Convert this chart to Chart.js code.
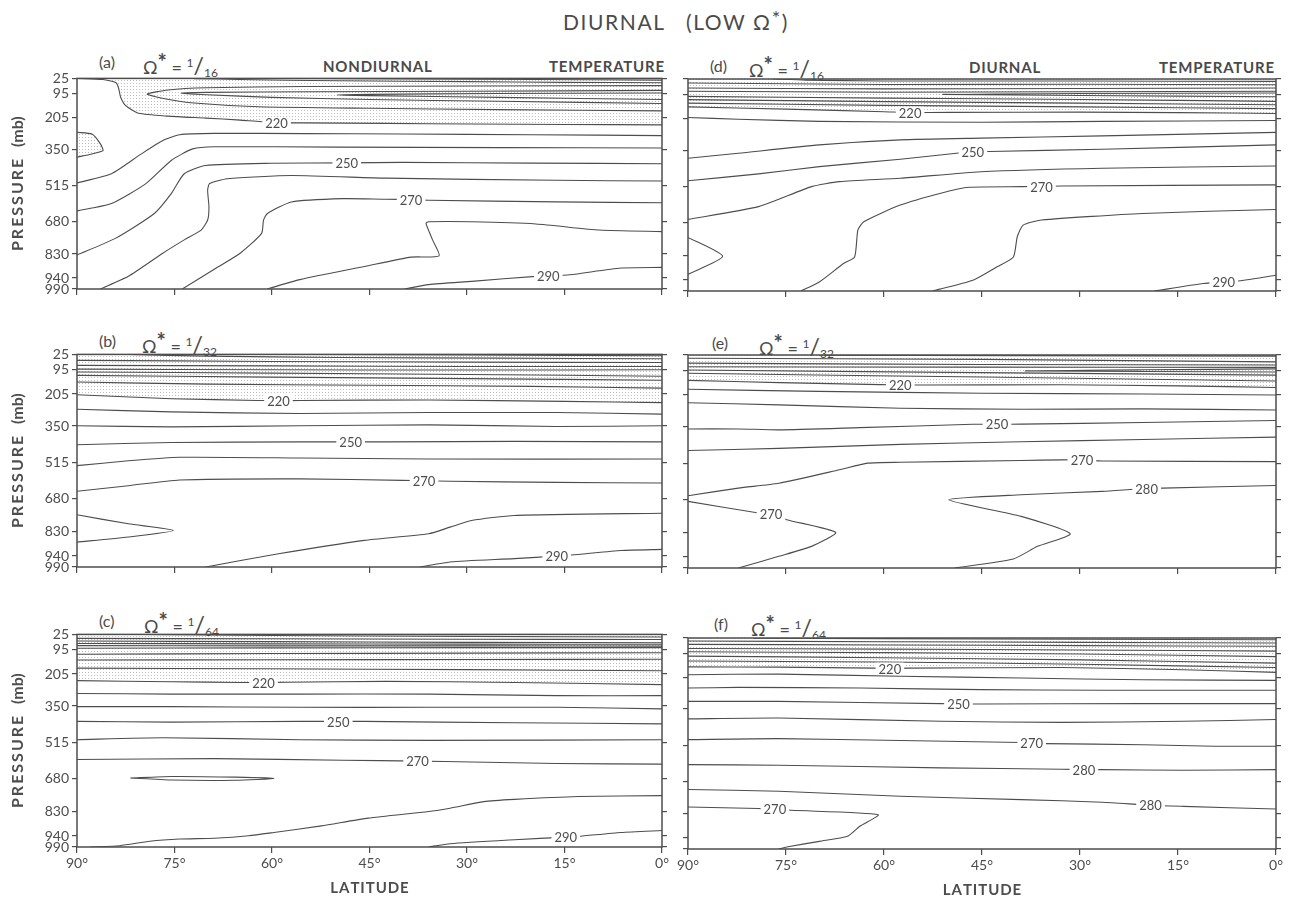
<!DOCTYPE html>
<html>
<head>
<meta charset="utf-8">
<script src="https://cdn.jsdelivr.net/npm/chart.js@4.4.0/dist/chart.umd.min.js"></script>
<style>
  html, body { margin: 0; padding: 0; background: #fff; }
  body { width: 1289px; height: 903px; position: relative; overflow: hidden;
         font-family: Lato, "Open Sans", "DejaVu Sans", sans-serif; color: #4a4a4a; }
  canvas { position: absolute; }
  .t { position: absolute; white-space: nowrap; line-height: 1; }
  .lab { font-size: 16px; }
  .om { font-size: 18px; }
  .om .st { font-size: 22px; font-weight: bold; position: relative; top: -4px; }
  .om .n { font-size: 12px; position: relative; top: -7px; }
  .om .sl { font-size: 23px; }
  .om .d { font-size: 12px; position: relative; top: 3px; }
  .hd { font-size: 15px; font-weight: bold; letter-spacing: 0.8px; }
  #title { left: 563px; top: 11px; font-size: 21px; letter-spacing: 1.6px; }
  #title .st { font-size: 20px; position: relative; top: -5px; }
</style>
</head>
<body>
<div class="t" id="title">DIURNAL&nbsp;&nbsp;&nbsp;(LOW Ω<span class="st">*</span>)</div>

<div class="t lab" style="left:99px;top:54px">(a)</div>
<div class="t om" style="left:143px;top:54px">Ω<span class="st">*</span> = <span class="n">1</span><span class="sl">/</span><span class="d">16</span></div>
<div class="t hd" style="left:323px;top:59px">NONDIURNAL</div>
<div class="t hd" style="left:549px;top:59px">TEMPERATURE</div>

<div class="t lab" style="left:710px;top:58px">(d)</div>
<div class="t om" style="left:749px;top:57px">Ω<span class="st">*</span> = <span class="n">1</span><span class="sl">/</span><span class="d">16</span></div>
<div class="t hd" style="left:969px;top:60px">DIURNAL</div>
<div class="t hd" style="left:1159px;top:60px">TEMPERATURE</div>

<div class="t lab" style="left:99px;top:333px">(b)</div>
<div class="t om" style="left:142px;top:333px">Ω<span class="st">*</span> = <span class="n">1</span><span class="sl">/</span><span class="d">32</span></div>

<div class="t lab" style="left:712px;top:335px">(e)</div>
<div class="t om" style="left:759px;top:335px">Ω<span class="st">*</span> = <span class="n">1</span><span class="sl">/</span><span class="d">32</span></div>

<div class="t lab" style="left:99px;top:613px">(c)</div>
<div class="t om" style="left:144px;top:613px">Ω<span class="st">*</span> = <span class="n">1</span><span class="sl">/</span><span class="d">64</span></div>

<div class="t lab" style="left:714px;top:616px">(f)</div>
<div class="t om" style="left:751px;top:616px">Ω<span class="st">*</span> = <span class="n">1</span><span class="sl">/</span><span class="d">64</span></div>

<script>
const INK = '#4d4d4d';
const levels = [25, 95, 205, 350, 515, 680, 830, 940, 990];
const latTicks = [90, 75, 60, 45, 30, 15, 0];

// (a) nondiurnal 1/16   points are [latitude, pressure]
const aTop1 = [[72,26],[65,30],[50,36],[30,40],[15,43],[0,45]];
const aTop2 = [[60,25],[40,27],[20,30],[0,33]];
const aTongue1 = [[0,58],[30,60],[55,62],[70,68],[76,78],[79.2,97],[76.5,118],[72,138],[62,155],[45,162],[25,168],[0,174]];
const aTongue2 = [[0,80],[30,84],[55,86],[70,89],[74,93],[70,100],[60,112],[45,122],[25,130],[0,140]];
const aTongue3 = [[0,92],[25,94],[45,98],[50,101],[45,104],[25,112],[0,122]];
const a220 = [[90,25],[86,30],[84,45],[83.6,70],[83.3,110],[82.5,150],[80.5,185],[76,198],[70.2,207],[64.9,216],[59.3,228],[55.7,229],[42.5,231],[29.3,234],[15,236],[0,238]];
const aBlob = [[90,272],[87.7,280],[86.4,325],[86,356],[87.7,371],[90,386]];
const a230 = [[90,504],[84.7,462],[80.1,371],[76.8,310],[74.2,283],[68.9,277],[55,278],[40,280],[20,283],[0,287]];
const a240 = [[90,632],[84.7,598],[79.4,507],[75.5,401],[72.2,348],[68.9,338],[50,340],[25,342],[0,344]];
const a250 = [[90,834],[84.1,758],[78.1,644],[75.5,553],[73.5,462],[70.2,424],[60,414],[48.5,412],[40,410],[20,413],[0,416]];
const a260 = [[86.4,990],[82.1,932],[76.8,826],[73.5,765],[70.9,720],[69.9,674],[69.7,614],[69.9,538],[69.6,507],[66.9,485],[57,470],[42.5,482],[16.2,492],[0,495]];
const a270 = [[73.8,990],[68.2,887],[64.9,826],[61.6,735],[61.3,674],[60.7,644],[57,591],[49.1,576],[42.5,579],[38.6,580],[35.9,583],[16.2,591],[0,595]];
const a280 = [[60.7,990],[55.7,947],[45.8,887],[38.6,844],[34.3,838],[35.3,765],[36.3,689],[35.9,682],[29.3,682],[19.4,692],[9.6,720],[0,727]];
const a290 = [[39.6,990],[35.9,970],[29.3,955],[19.4,932],[17.5,930],[14.2,925],[6.3,894],[0,891]];
const aLabels = [[59.3,230,'220'],[48.5,412,'250'],[38.6,580,'270'],[17.5,930,'290']];

// (b) nondiurnal 1/32
const bTop1 = [[82,25],[70,33],[50,39],[25,42],[0,45]];
const bTop2 = [[55,25],[30,28],[0,31]];
const bTop3 = [[90,52],[60,57],[30,60],[0,62]];
const bTop4 = [[90,75],[60,77],[30,80],[0,80]];
const bTop5 = [[90,92],[60,95],[30,96],[0,95]];
const bTop6 = [[90,105],[60,110],[30,116],[0,124]];
const bTop7 = [[90,120],[60,128],[30,135],[0,142]];
const bTop8 = [[90,150],[70,160],[45,165],[20,170],[0,178]];
const b220 = [[90,208],[75.5,226],[62.3,234],[59,236],[55.7,234],[36,232],[15,238],[0,244]];
const b230 = [[90,274],[75.5,286],[55.7,293],[35.9,289],[16.2,289],[0,296]];
const b240 = [[90,349],[75.5,354],[55.7,349],[35.9,345],[16.2,352],[0,349]];
const b250 = [[90,435],[75.5,425],[55.7,422],[47.9,422],[42.5,422],[22.7,420],[0,422]];
const b260 = [[90,530],[82.1,508],[74.2,492],[55.7,495],[35.9,500],[0,500]];
const b270 = [[90,646],[82.1,621],[74.2,595],[55.7,590],[39.9,597],[36.6,598],[32.6,601],[16.2,606],[0,609]];
const bWedge = [[90,753],[82.1,794],[75.2,824],[82.1,854],[90,877]];
const b280 = [[70.2,990],[59,930],[45.8,869],[35.9,839],[32.6,809],[29.3,779],[22.7,756],[0,746]];
const b290 = [[37.3,990],[32.6,967],[22.7,952],[16.2,940],[12.9,933],[6.3,915],[0,910]];
const bLabels = [[59,236,'220'],[47.9,422,'250'],[36.6,598,'270'],[16.2,940,'290']];

// (c) nondiurnal 1/64
const cTop1 = [[80,25],[60,30],[30,34],[0,37]];
const cTop2 = [[90,43],[60,45],[30,47],[0,48]];
const cTop3 = [[90,55],[60,58],[30,61],[0,63]];
const cTop4 = [[90,66],[60,68],[30,69],[0,70]];
const cTop5 = [[90,76],[60,77],[30,77],[0,78]];
const cTop6 = [[90,88],[60,86],[30,85],[0,85]];
const cTop7 = [[90,115],[60,112],[30,110],[0,108]];
const cTop8 = [[90,141],[60,140],[30,139],[0,138]];
const cTop9 = [[90,178],[60,181],[30,185],[0,190]];
const c220 = [[90,235],[75.5,240],[64.9,243],[61.3,243],[57.7,242],[42.5,238],[22.7,243],[0,253]];
const c230 = [[90,293],[75.5,296],[55.7,296],[35.9,296],[16.2,303],[0,303]];
const c240 = [[90,353],[75.5,353],[55.7,356],[35.9,356],[16.2,356],[0,363]];
const c250 = [[90,420],[75.5,423],[55.7,420],[49.8,420],[45.8,420],[22.7,426],[0,431]];
const c260 = [[90,503],[76.8,494],[55.7,503],[35.9,506],[0,503]];
const c270 = [[90,593],[68.9,589],[49.1,596],[37.6,600],[29.3,604],[16.2,611],[0,614]];
const cRing = [[81.8,677],[75.5,670],[65.6,673],[59.7,679],[65.6,687],[75.5,686],[81.8,677]];
const c280 = [[88,990],[83.4,984],[78.8,964],[74.2,954],[68.9,950],[63.6,939],[59.7,924],[52.4,894],[45.2,859],[35.9,829],[32.6,814],[27.4,784],[22.7,774],[12.9,761],[0,757]];
const c290 = [[35.9,990],[32.6,975],[22.7,957],[14.8,945],[12.9,942],[6.3,924],[0,915]];
const cLabels = [[61.3,243,'220'],[49.8,420,'250'],[37.6,600,'270'],[14.8,945,'290']];

// (d) diurnal 1/16
const dTop1 = [[77,25],[72,30],[60,34],[30,34],[0,36]];
const dTop2 = [[90,43],[60,50],[30,49],[0,51]];
const dTop3 = [[90,66],[60,70],[30,68],[0,66]];
const dTop4 = [[90,81],[60,85],[30,83],[0,81]];
const dTongue = [[0,89],[30,91],[51,95],[30,100],[0,106]];
const dTop5 = [[90,104],[60,112],[30,118],[0,127]];
const dTop6 = [[90,119],[60,128],[30,135],[0,142]];
const dTop7 = [[90,135],[60,145],[30,152],[0,160]];
const d220 = [[90,152],[75,162],[60,174],[56,178],[50,177],[30,176],[15,178],[0,182]];
const d230 = [[90,200],[82.3,208],[69.9,218],[45.2,222],[26.6,218],[0,214]];
const d240 = [[90,386],[82.3,363],[69.9,325],[57.5,302],[45.2,294],[26.6,284],[0,268]];
const d250 = [[90,488],[79.2,457],[69.9,424],[57.5,390],[48.9,363],[46.4,358],[43.9,355],[26.6,345],[0,325]];
const d260 = [[90,664],[79.2,606],[71.1,515],[66.8,492],[57.5,477],[45.2,447],[26.6,431],[0,421]];
const d270 = [[72.7,990],[69.9,949],[66.2,865],[64.5,835],[64,713],[63.1,675],[57.5,599],[51.3,545],[47,518],[39,515],[35.9,514],[32.8,512],[0,507]];
const d280 = [[52.6,990],[46.4,941],[42.7,880],[40.2,835],[39.6,743],[38.7,690],[35.9,667],[20.4,637],[0,619]];
const d290 = [[18.6,990],[11.1,956],[8,950],[4.9,941],[0,918]];
const dWedge = [[90,746],[84.7,832],[90,914]];
const dLabels = [[56,178,'220'],[46.4,358,'250'],[35.9,514,'270'],[8,950,'290']];

// (e) diurnal 1/32
const eTop1 = [[70,26],[40,28],[0,30]];
const eTop2 = [[90,40],[45,45],[0,56]];
const eTop3 = [[90,62],[45,68],[0,70]];
const eTop4 = [[90,78],[45,80],[0,81]];
const eTongue = [[0,88],[20,92],[38.4,97],[20,100],[0,102]];
const eTop5 = [[90,93],[45,105],[0,116]];
const eTop6 = [[90,108],[45,125],[0,143]];
const e220 = [[90,140],[76,150],[60.6,159],[57.5,161],[54,161],[33,160],[15,165],[0,172]];
const e230 = [[90,180],[70,190],[45,198],[20,202],[0,206]];
const e240 = [[90,241],[76.1,251],[57.5,266],[39,271],[20.4,269],[0,274]];
const e250 = [[90,360],[82.3,360],[76.1,364],[63.7,354],[46.4,339],[42.7,339],[39,338],[20.4,331],[0,322]];
const e260 = [[90,458],[76.1,448],[57.5,430],[39,418],[20.4,408],[0,397]];
const e270 = [[90,663],[82.3,628],[76.1,606],[66.8,545],[62.5,515],[57.5,511],[39,503],[32.8,500],[29.7,500],[26.6,505],[0,508]];
const e270b = [[90,688],[79.2,741],[77.3,745],[74.9,771],[67.4,829],[71.1,892],[76.1,937],[82.3,990]];
const e280 = [[49.2,990],[40.2,949],[36.5,892],[31.5,835],[39,756],[50.1,681],[39,658],[26.6,643],[21.7,633],[19.8,630],[17.3,628],[0,616]];
const eLabels = [[57.5,161,'220'],[42.7,339,'250'],[29.7,500,'270'],[19.8,630,'280'],[77.3,745,'270']];

// (f) diurnal 1/64
const fTop1 = [[80,26],[60,28],[30,31],[0,33]];
const fTop2 = [[90,39],[60,42],[30,45],[0,48]];
const fTop3 = [[90,54],[60,57],[30,60],[0,63]];
const fTop4 = [[90,73],[60,76],[30,80],[0,85]];
const fTop5 = [[90,88],[60,92],[30,98],[0,110]];
const fTop6 = [[90,108],[60,115],[30,125],[0,140]];
const fTop7 = [[90,130],[60,135],[30,145],[0,160]];
const f220 = [[90,157],[76.1,158],[61.5,163],[59.1,165],[56.3,163],[32.8,160],[14.2,170],[0,182]];
const f230 = [[90,193],[76.1,190],[57.5,200],[39,208],[20.4,216],[0,219]];
const f240 = [[90,254],[82.3,251],[63.7,254],[45.2,261],[26.6,264],[0,264]];
const f250 = [[90,315],[76.1,315],[51.3,325],[48.6,327],[45.2,327],[20.4,325],[0,325]];
const f260 = [[90,395],[76.1,391],[51.3,406],[32.8,411],[14.2,406],[0,398]];
const f270 = [[90,490],[76.1,485],[57.5,494],[39,503],[37.4,505],[35.3,508],[20.4,513],[9.3,520],[0,520]];
const f280 = [[90,604],[76.1,607],[51.3,619],[32.8,625],[29.4,627],[26.6,627],[14.2,630],[0,627]];
const f280b = [[90,718],[76.1,726],[57.5,749],[39,764],[26.6,776],[19.2,790],[14.2,795],[0,807]];
const f270b = [[90,798],[79.2,805],[76.7,807],[74.2,813],[60.9,833],[63.7,886],[65.6,932],[69.9,955],[74.9,981],[76.1,990]];
const fLabels = [[59.1,165,'220'],[48.6,327,'250'],[37.4,505,'270'],[29.4,627,'280'],[19.2,790,'280'],[76.7,807,'270']];

Chart.defaults.font.family = 'Lato, "Open Sans", sans-serif';
Chart.defaults.color = INK;

// little dot tile for the stippled (cold) regions
const dots = document.createElement('canvas');
dots.width = 3; dots.height = 3;
const dctx = dots.getContext('2d');
dctx.fillStyle = 'rgba(100,100,100,0.42)';
dctx.fillRect(1, 1, 1, 1);

function tracePoly(ctx, x, y, poly) {
  ctx.beginPath();
  poly.forEach(([lat, p], i) => {
    const px = x.getPixelForValue(lat), py = y.getPixelForValue(p);
    if (i === 0) ctx.moveTo(px, py); else ctx.lineTo(px, py);
  });
  ctx.closePath();
}

const S = '\u2009', H = '\u200A';
const yTitle = ['P','R','E','S','S','U','R','E'].join(S) + '   (mb)';
const xTitle = ['L','A','T','I','T','U','D','E'].join(H);

function makePanel(frame, col, bottomRow, lines, stipple, labels) {
  const L = col === 0 ? 77 : 20, R = 13, T = 10, B = bottomRow ? 52 : 12;
  const cv = document.createElement('canvas');
  cv.width = frame.x1 - frame.x0 + L + R;
  cv.height = frame.y1 - frame.y0 + T + B;
  cv.style.left = (frame.x0 - L) + 'px';
  cv.style.top = (frame.y0 - T) + 'px';
  document.body.appendChild(cv);

  const yTicks = ax => { ax.ticks = levels.map(v => ({ value: v })); };
  const tickGrid = { drawOnChartArea: false, drawTicks: true, tickLength: 5, tickColor: INK, lineWidth: 1.2 };

  const stipplePlugin = {
    id: 'stipple',
    beforeDatasetsDraw(chart) {
      const { ctx, chartArea, scales } = chart;
      ctx.save();
      ctx.beginPath();
      ctx.rect(chartArea.left, chartArea.top, chartArea.width, chartArea.height);
      ctx.clip();
      ctx.fillStyle = ctx.createPattern(dots, 'repeat');
      stipple.forEach(poly => { tracePoly(ctx, scales.x, scales.y, poly); ctx.fill(); });
      ctx.restore();
    }
  };
  const labelPlugin = {
    id: 'contourLabels',
    afterDatasetsDraw(chart) {
      const { ctx, scales } = chart;
      ctx.save();
      ctx.font = '13px Lato, "Open Sans", sans-serif';
      ctx.textAlign = 'center';
      ctx.textBaseline = 'middle';
      labels.forEach(([lat, p, txt]) => {
        const px = scales.x.getPixelForValue(lat), py = scales.y.getPixelForValue(p);
        const w = ctx.measureText(txt).width + 6;
        ctx.fillStyle = '#fff';
        ctx.fillRect(px - w / 2, py - 6, w, 12);
        ctx.fillStyle = INK;
        ctx.fillText(txt, px, py + 1);
      });
      ctx.restore();
    }
  };
  const framePlugin = {
    id: 'frame',
    afterDraw(chart) {
      const { ctx, chartArea: a } = chart;
      ctx.save();
      ctx.strokeStyle = INK;
      ctx.lineWidth = 1.5;
      ctx.strokeRect(a.left, a.top, a.width, a.height);
      ctx.restore();
    }
  };

  new Chart(cv, {
    type: 'scatter',
    data: {
      datasets: lines.map(l => ({
        data: l.map(([lat, p]) => ({ x: lat, y: p })),
        showLine: true,
        pointRadius: 0,
        pointHitRadius: 0,
        borderColor: INK,
        borderWidth: 1.1,
        tension: 0.2
      }))
    },
    options: {
      responsive: false,
      animation: false,
      devicePixelRatio: 1,
      events: [],
      layout: { padding: { top: T, left: 0, right: 0, bottom: 0 } },
      plugins: { legend: { display: false }, tooltip: { enabled: false } },
      scales: {
        x: {
          type: 'linear', min: 0, max: 90, reverse: true,
          afterBuildTicks: ax => { ax.ticks = latTicks.map(v => ({ value: v })); },
          afterFit: ax => { ax.height = B; },
          grid: { ...tickGrid, tickLength: 6 },
          border: { display: false },
          ticks: { display: bottomRow, autoSkip: false, maxRotation: 0, padding: 2,
                   font: { size: 14 }, color: INK, callback: v => v + '°' },
          title: { display: bottomRow, text: xTitle, color: INK,
                   font: { size: 15, weight: 'bold' }, padding: { top: 0, bottom: 2 } }
        },
        y: {
          type: 'linear', position: 'left', min: 25, max: 990, reverse: true,
          afterBuildTicks: yTicks,
          afterFit: ax => { ax.width = L; },
          grid: tickGrid,
          border: { display: false },
          ticks: { display: col === 0, autoSkip: false, padding: 3, font: { size: 14 }, color: INK },
          title: { display: col === 0, text: yTitle, color: INK,
                   font: { size: 16, weight: 'bold' }, padding: { top: 8, bottom: 0 } }
        },
        y2: {
          type: 'linear', position: 'right', min: 25, max: 990, reverse: true,
          afterBuildTicks: yTicks,
          afterFit: ax => { ax.width = R; },
          grid: tickGrid,
          border: { display: false },
          ticks: { display: false }
        }
      }
    },
    plugins: [stipplePlugin, labelPlugin, framePlugin]
  });
}

makePanel({ x0: 77, x1: 662, y0: 77, y1: 289 }, 0, false,
  [aTop1, aTop2, aTongue1, aTongue2, aTongue3, a220, aBlob, a230, a240, a250, a260, a270, a280, a290],
  [[...a220, [0, 25]], aBlob], aLabels);
makePanel({ x0: 77, x1: 662, y0: 353, y1: 567 }, 0, false,
  [bTop1, bTop2, bTop3, bTop4, bTop5, bTop6, bTop7, bTop8, b220, b230, b240, b250, b260, b270, bWedge, b280, b290],
  [[[90, 25], ...b220, [0, 25]]], bLabels);
makePanel({ x0: 77, x1: 662, y0: 633, y1: 847 }, 0, true,
  [cTop1, cTop2, cTop3, cTop4, cTop5, cTop6, cTop7, cTop8, cTop9, c220, c230, c240, c250, c260, c270, cRing, c280, c290],
  [[[90, 25], ...c220, [0, 25]]], cLabels);
makePanel({ x0: 688, x1: 1276, y0: 79, y1: 291 }, 1, false,
  [dTop1, dTop2, dTop3, dTop4, dTongue, dTop5, dTop6, dTop7, d220, d230, d240, d250, d260, d270, d280, d290, dWedge],
  [[[90, 25], ...d220, [0, 25]]], dLabels);
makePanel({ x0: 688, x1: 1276, y0: 355, y1: 568 }, 1, false,
  [eTop1, eTop2, eTop3, eTop4, eTongue, eTop5, eTop6, e220, e230, e240, e250, e260, e270, e270b, e280],
  [[[90, 25], ...e220, [0, 25]]], eLabels);
makePanel({ x0: 688, x1: 1276, y0: 638, y1: 849 }, 1, true,
  [fTop1, fTop2, fTop3, fTop4, fTop5, fTop6, fTop7, f220, f230, f240, f250, f260, f270, f280, f280b, f270b],
  [[[90, 25], ...f220, [0, 25]]], fLabels);
</script>
</body>
</html>
